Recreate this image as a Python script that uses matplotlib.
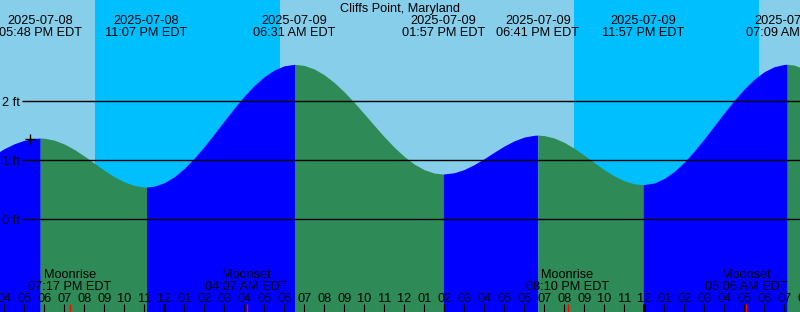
import matplotlib
matplotlib.use("Agg")
import matplotlib.pyplot as plt
from matplotlib.transforms import blended_transform_factory
import numpy as np

plt.rcParams['font.family'] = ['Liberation Sans', 'DejaVu Sans']

title = "Cliffs Point, Maryland"

# Hours relative to 2025-07-09 00:00 EDT, tide height in ft
tide_hours = [-8.5, -8.0, -7.5, -7.0, -6.5, -6.2, -6.0, -5.5, -5.0, -4.5, -4.0, -3.5,
              -3.0, -2.5, -2.0, -1.5, -1.0, -0.883, -0.5, 0.0, 0.5, 1.0, 1.5, 2.0,
              2.5, 3.0, 3.5, 4.0, 4.5, 5.0, 5.5, 6.0, 6.517, 7.0, 7.5, 8.0, 8.5, 9.0,
              9.5, 10.0, 10.5, 11.0, 11.5, 12.0, 12.5, 13.0, 13.5, 13.95, 14.5, 15.0,
              15.5, 16.0, 16.5, 17.0, 17.5, 18.0, 18.5, 18.683, 19.0, 19.5, 20.0, 20.5,
              21.0, 21.5, 22.0, 22.5, 23.0, 23.5, 23.95, 24.5, 25.0, 25.5, 26.0, 26.5,
              27.0, 27.5, 28.0, 28.5, 29.0, 29.5, 30.0, 30.5, 31.0, 31.15, 31.5, 32.0]
tide_ft = [1.098, 1.200, 1.283, 1.342, 1.374, 1.380, 1.377, 1.345, 1.280, 1.188, 1.076, 0.955,
           0.835, 0.725, 0.637, 0.577, 0.551, 0.550, 0.564, 0.623, 0.724, 0.865, 1.039, 1.236,
           1.451, 1.670, 1.887, 2.091, 2.271, 2.422, 2.534, 2.605, 2.630, 2.611, 2.551, 2.453, 2.322, 2.163,
           1.984, 1.792, 1.595, 1.403, 1.225, 1.069, 0.939, 0.844, 0.787, 0.770, 0.792, 0.847,
           0.930, 1.031, 1.140, 1.245, 1.333, 1.397, 1.427, 1.430, 1.422, 1.381, 1.307, 1.207,
           1.089, 0.964, 0.843, 0.738, 0.656, 0.605, 0.590, 0.619, 0.695, 0.814, 0.971, 1.159,
           1.367, 1.588, 1.809, 2.021, 2.213, 2.377, 2.505, 2.589, 2.628, 2.630, 2.617, 2.552]

# High / low tide events
extreme_hours = [-6.2, -0.883, 6.517, 13.95, 18.683, 23.95, 31.15]
extreme_dates = ["2025-07-08", "2025-07-08", "2025-07-09", "2025-07-09",
                 "2025-07-09", "2025-07-09", "2025-07-10"]
extreme_times = ["05:48 PM EDT", "11:07 PM EDT", "06:31 AM EDT", "01:57 PM EDT",
                 "06:41 PM EDT", "11:57 PM EDT", "07:09 AM EDT"]

# Night periods (sunset -> sunrise)
night_start = [-3.483, 20.5]
night_end = [5.767, 29.75]

# Moon events
moon_hours = [-4.717, 4.117, 20.167, 29.1]
moon_names = ["Moonrise", "Moonset", "Moonrise", "Moonset"]
moon_times = ["07:17 PM EDT", "04:07 AM EDT", "08:10 PM EDT", "05:06 AM EDT"]

# Hour ticks
tick_hours = list(range(-8, 33))
tick_labels = ["04", "05", "06", "07", "08", "09", "10", "11", "12", "01", "02", "03",
               "04", "05", "06", "07", "08", "09", "10", "11", "12", "01", "02", "03",
               "04", "05", "06", "07", "08", "09", "10", "11", "12", "01", "02", "03",
               "04", "05", "06", "07", "08"]
midnight_hours = [0, 24]

level_ft = [0, 1, 2]
level_labels = ["0 ft", "1 ft", "2 ft"]

now_hour = -6.7
now_ft = 1.36

DAY = "#87CEEB"
NIGHT = "#00BFFF"
RISE = "#0000FF"
FALL = "#2E8B57"

XMIN, XMAX = -8.21, 31.79
YMIN, YMAX = -1.568, 3.720
FS = 9.2

fig = plt.figure(figsize=(8, 3.12), dpi=100)
fig.patch.set_facecolor(DAY)
ax = fig.add_axes([0, 0, 1, 1])
ax.set_xlim(XMIN, XMAX)
ax.set_ylim(YMIN, YMAX)
ax.set_axis_off()

for s, e in zip(night_start, night_end):
    ax.axvspan(s, e, color=NIGHT, lw=0, zorder=1)

t = np.array(tide_hours)
h = np.array(tide_ft)
cut_idx = [0] + [int(np.argmin(np.abs(t - eh))) for eh in extreme_hours] + [len(t) - 1]
cut_idx = sorted(set(cut_idx))
for a, b in zip(cut_idx[:-1], cut_idx[1:]):
    seg_t = t[a:b + 1]
    seg_h = h[a:b + 1]
    col = RISE if seg_h[-1] > seg_h[0] else FALL
    ax.fill_between(seg_t, seg_h, YMIN, color=col, lw=0, zorder=2)

ax.hlines(level_ft, -7.11, XMAX, colors="black", lw=1.0, zorder=3)
for lv, lb in zip(level_ft, level_labels):
    ax.text(-8.11, lv - 2.0 / 59, lb, ha="left", va="center", fontsize=FS, zorder=4)

ax.plot([now_hour], [now_ft], marker="+", color="black", markersize=7, mew=1.0, zorder=5)

bt = blended_transform_factory(ax.transData, ax.transAxes)
tick_len = 8 / 312
ax.vlines(tick_hours, 0, tick_len, colors="black", lw=0.8, transform=bt, zorder=4)
ax.vlines(midnight_hours, 0, tick_len, colors="black", lw=2.2, transform=bt, zorder=4)
ax.vlines(moon_hours, 0, tick_len, colors="red", lw=1.0, transform=bt, zorder=4)

for th, tl in zip(tick_hours, tick_labels):
    ax.text(th, 1 - 298.5 / 312, tl, transform=bt, ha="center", va="center", fontsize=FS, zorder=4)

for mh, mn, mt in zip(moon_hours, moon_names, moon_times):
    ax.text(mh, 1 - 275.5 / 312, mn, transform=bt, ha="center", va="center", fontsize=FS, zorder=4)
    ax.text(mh, 1 - 287.5 / 312, mt, transform=bt, ha="center", va="center", fontsize=FS, zorder=4)

for eh, ed, et in zip(extreme_hours, extreme_dates, extreme_times):
    ax.text(eh, 1 - 21.5 / 312, ed, transform=bt, ha="center", va="center", fontsize=FS, zorder=4)
    ax.text(eh, 1 - 33.5 / 312, et, transform=bt, ha="center", va="center", fontsize=FS, zorder=4)

ax.text(0.5, 1 - 9.0 / 312, title, transform=ax.transAxes, ha="center", va="center",
        fontsize=FS, zorder=4)

fig.savefig("out.png", dpi=100, facecolor=DAY)
